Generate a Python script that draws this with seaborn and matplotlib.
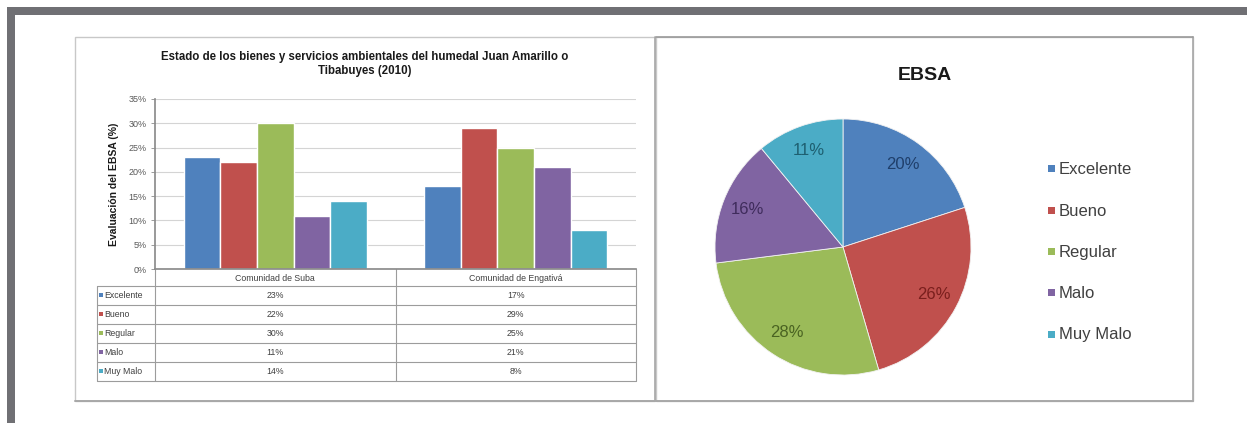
import numpy as np
import pandas as pd
import matplotlib
matplotlib.use("Agg")
import matplotlib.pyplot as plt
import seaborn as sns
from matplotlib.patches import Rectangle

# Data
niveles = ["Excelente", "Bueno", "Regular", "Malo", "Muy Malo"]
comunidades = ["Comunidad de Suba", "Comunidad de Engativá"]
suba = [23, 22, 30, 11, 14]
engativa = [17, 29, 25, 21, 8]
ebsa = [20, 25.5, 27.5, 16, 11]
y_ticks = [0, 5, 10, 15, 20, 25, 30, 35]

colores = ["#4F81BD", "#C0504D", "#9BBB59", "#8064A2", "#4BACC6"]
colores_texto = ["#1F3F6B", "#7A1F1D", "#4A6322", "#3F2C5C", "#1E5F70"]

titulo_barras = ("Estado de los bienes y servicios ambientales del humedal Juan Amarillo o\n"
                 "Tibabuyes (2010)")
eje_y = "Evaluación del EBSA (%)"
titulo_pie = "EBSA"

W, H = 1247, 423
sns.set_theme(style="white")
plt.rcParams["font.family"] = ["Liberation Sans", "DejaVu Sans"]

fig = plt.figure(figsize=(W / 100, H / 100), dpi=100)


def box(x0, y0, x1, y1):
    return [x0 / W, 1 - y1 / H, (x1 - x0) / W, (y1 - y0) / H]


# Background canvas in pixel coordinates
canvas = fig.add_axes([0, 0, 1, 1])
canvas.set_xlim(0, W)
canvas.set_ylim(H, 0)
canvas.axis("off")

frame_gray = "#707074"
canvas.add_patch(Rectangle((7, 7), W - 7, 8, fc=frame_gray, ec="none"))
canvas.add_patch(Rectangle((7, 7), 8, H - 7, fc=frame_gray, ec="none"))

# Chart panels
for x0, x1 in [(75, 655), (656, 1193)]:
    canvas.add_patch(Rectangle((x0, 37), x1 - x0, 364, fc="white", ec="#c8c8c8", lw=1))
    canvas.plot([x0, x1], [401, 401], color="#a8a8a8", lw=1.4)
    canvas.plot([x1, x1], [37, 401], color="#a8a8a8", lw=1.2)
canvas.plot([656, 1193], [37.5, 37.5], color="#9a9a9a", lw=1.2)

# ---------- Bar chart ----------
px0, px1, py0, py1 = 155, 636, 99, 269
axb = fig.add_axes(box(px0, py0, px1, py1))
df = pd.DataFrame({
    "Comunidad": np.repeat(comunidades, len(niveles)),
    "Nivel": niveles * len(comunidades),
    "Valor": suba + engativa,
})
sns.barplot(data=df, x="Comunidad", y="Valor", hue="Nivel", hue_order=niveles,
            palette=colores, width=0.76, saturation=1, errorbar=None,
            legend=False, ax=axb)
axb.set_xlim(-0.5, len(comunidades) - 0.5)
axb.set_ylim(0, 35)
axb.set_yticks(y_ticks)
axb.set_yticklabels([f"{v}%" for v in y_ticks], fontsize=6.5, color="#595959")
axb.set_xticks([])
axb.set_xlabel("")
axb.set_ylabel("")
axb.yaxis.grid(True, color="#d4d4d4", lw=0.8)
axb.set_axisbelow(True)
for s in ["top", "right"]:
    axb.spines[s].set_visible(False)
axb.spines["left"].set_color("#8c8c8c")
axb.spines["bottom"].set_color("#8c8c8c")
axb.tick_params(axis="y", length=3, width=0.6, color="#8c8c8c", pad=3, left=True)
axb.set_facecolor("none")

canvas.text(365, 64, titulo_barras, ha="center", va="center", fontsize=8.3,
            fontweight="bold", color="#1a1a1a", linespacing=1.3)
canvas.text(114, 184, eje_y, ha="center", va="center", rotation=90, fontsize=7.5,
            fontweight="bold", color="#1a1a1a")

# Data table below the bars
line_c = "#9c9c9c"
tx0, tmid = 97, 396
row_h = 19
head_top, head_bot = py1, 286
rows_y = [head_bot + i * row_h for i in range(len(niveles) + 1)]
centers = [px0 + (i + 0.5) * (px1 - px0) / len(comunidades) for i in range(len(comunidades))]

for xv in [px0, tmid, px1]:
    canvas.plot([xv, xv], [head_top, rows_y[-1]], color=line_c, lw=0.8)
canvas.plot([tx0, tx0], [head_bot, rows_y[-1]], color=line_c, lw=0.8)
for yv in rows_y:
    canvas.plot([tx0, px1], [yv, yv], color=line_c, lw=0.8)
for c, name in zip(centers, comunidades):
    canvas.text(c, (head_top + head_bot) / 2 + 1, name, ha="center", va="center",
                fontsize=6.3, color="#404040")
for i, (nivel, col) in enumerate(zip(niveles, colores)):
    yc = (rows_y[i] + rows_y[i + 1]) / 2
    canvas.add_patch(Rectangle((99, yc - 2), 4, 4, fc=col, ec="none"))
    canvas.text(104.5, yc, nivel, ha="left", va="center", fontsize=6.3, color="#404040")
    for c, serie in zip(centers, [suba, engativa]):
        canvas.text(c, yc, f"{serie[i]}%", ha="center", va="center",
                    fontsize=6.3, color="#404040")

# ---------- Pie chart ----------
cx, cy, r = 843, 247, 128
axp = fig.add_axes(box(cx - r, cy - r, cx + r, cy + r))
wedges, _, autotexts = axp.pie(
    ebsa, colors=colores, startangle=90, counterclock=False,
    autopct="%.0f%%", pctdistance=0.8,
    wedgeprops=dict(edgecolor="#f2f2f2", linewidth=0.6),
    textprops=dict(fontsize=12),
)
for t, c in zip(autotexts, colores_texto):
    t.set_color(c)
axp.set_xlim(-1, 1)
axp.set_ylim(-1, 1)
axp.set_aspect("equal")
axp.axis("off")

canvas.text(924.5, 75, titulo_pie, ha="center", va="center", fontsize=14,
            fontweight="bold", color="#1a1a1a")

leg_y = [169, 211, 252, 293, 335]
for nivel, col, yv in zip(niveles, colores, leg_y):
    canvas.add_patch(Rectangle((1048, yv - 3.5), 7, 7, fc=col, ec="none"))
    canvas.text(1059, yv, nivel, ha="left", va="center", fontsize=12, color="#404040")

fig.savefig("out.png", dpi=100)
